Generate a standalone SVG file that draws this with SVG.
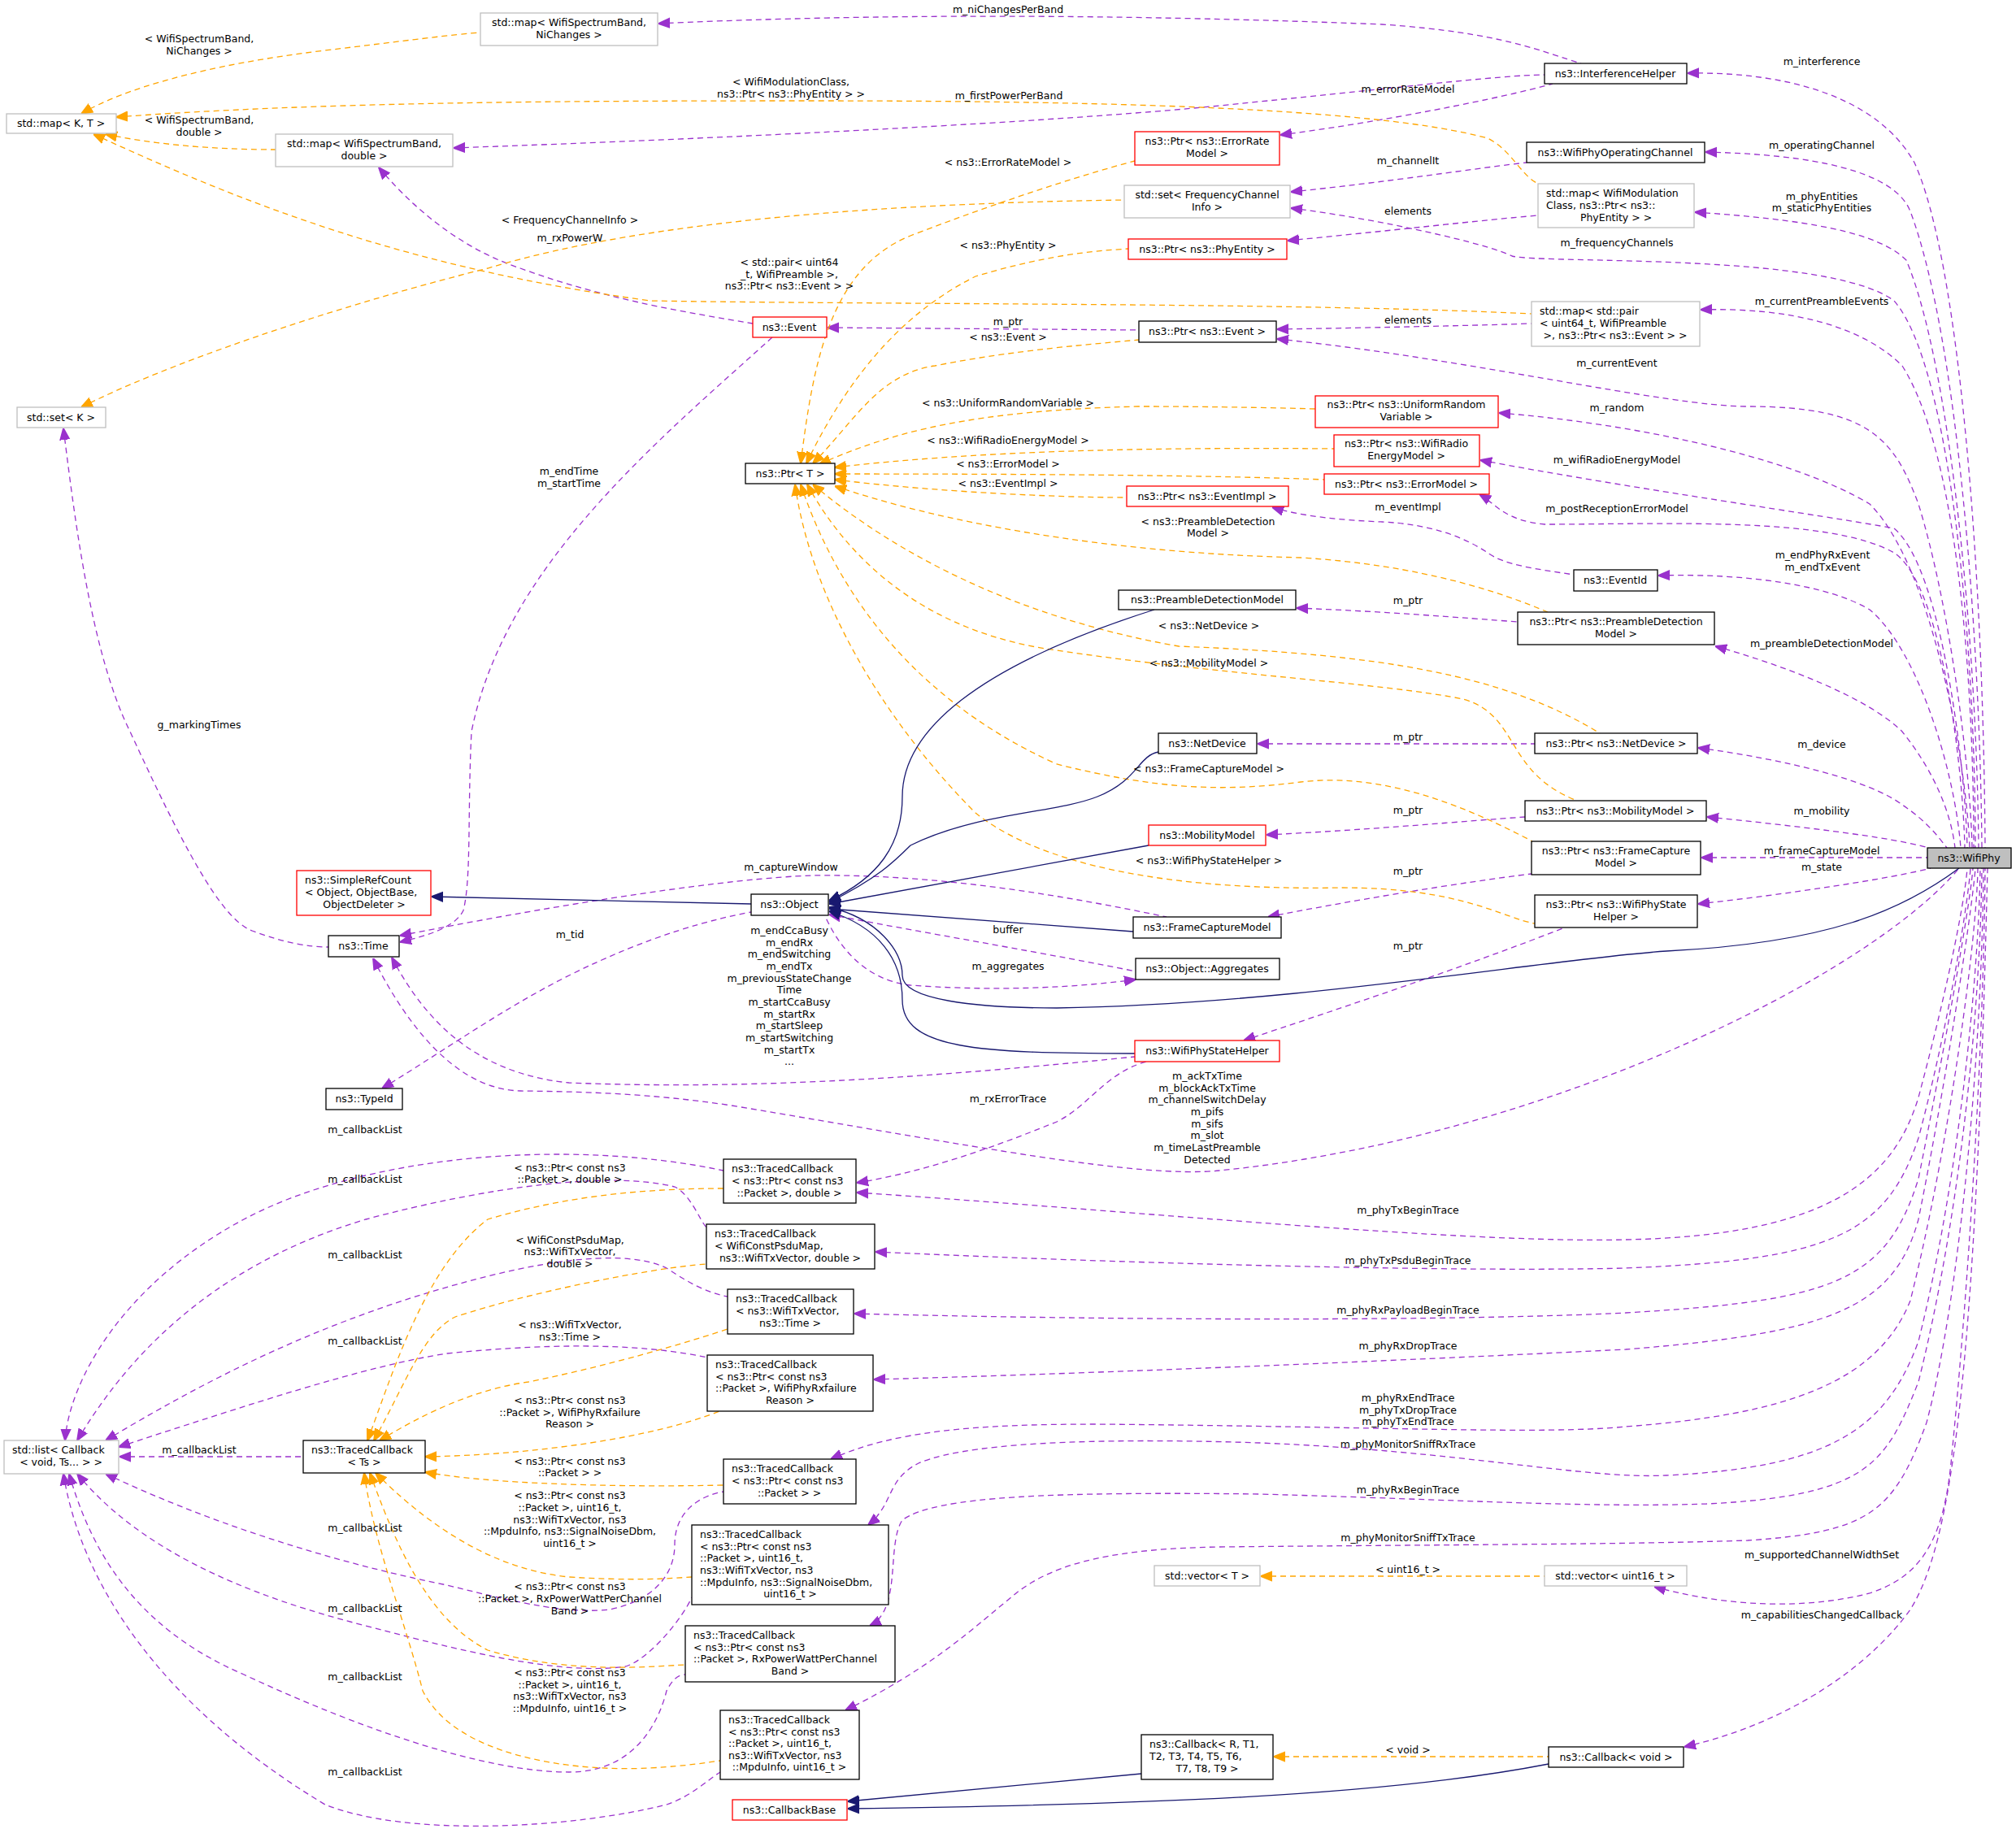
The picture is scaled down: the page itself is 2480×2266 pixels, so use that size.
<svg xmlns="http://www.w3.org/2000/svg" width="2480" height="2266" viewBox="0 0 2480 2266">
<style>
text{font-family:"DejaVu Sans","Liberation Sans",sans-serif;font-size:12.5px;fill:#000}
.l{text-anchor:middle}
.n rect{fill:#fff;stroke:#000;stroke-width:1.3}
.n.r rect{stroke:#ff0000}
.n.g rect{stroke:#bfbfbf}
.n.s rect{fill:#bfbfbf}
.n text{text-anchor:middle}
.n text.a{text-anchor:start}
path{fill:none;stroke-width:1.3}
.p{stroke:#9a32cd;stroke-dasharray:7,5;marker-start:url(#mp)}
.o{stroke:#ffa500;stroke-dasharray:7,5;marker-start:url(#mo)}
.v{stroke:#191970;marker-start:url(#mn)}
</style>
<defs>
<marker id="mp" viewBox="0 0 10 10" refX="10" refY="5" markerWidth="14" markerHeight="14" markerUnits="userSpaceOnUse" orient="auto-start-reverse"><path d="M0,1 L10,5 L0,9 z" style="fill:#9a32cd;stroke:#9a32cd"/></marker>
<marker id="mo" viewBox="0 0 10 10" refX="10" refY="5" markerWidth="14" markerHeight="14" markerUnits="userSpaceOnUse" orient="auto-start-reverse"><path d="M0,1 L10,5 L0,9 z" style="fill:#ffa500;stroke:#ffa500"/></marker>
<marker id="mn" viewBox="0 0 10 10" refX="10" refY="5" markerWidth="14" markerHeight="14" markerUnits="userSpaceOnUse" orient="auto-start-reverse"><path d="M0,1 L10,5 L0,9 z" style="fill:#191970;stroke:#191970"/></marker>
</defs>
<rect width="2480" height="2266" fill="#fff"/>
<g id="edges">
<path class="p" d="M2076,90 C2200,88 2310,120 2355,200 C2410,320 2440,700 2442,1043"/>
<path class="p" d="M2098,187 C2230,190 2330,210 2350,260 C2410,420 2436,800 2438,1043"/>
<path class="p" d="M2085,261 C2220,270 2310,285 2345,320 C2400,450 2432,800 2434,1043"/>
<path class="p" d="M1588,256 C1700,270 1830,300 1860,315 C1900,325 2250,310 2330,370 C2400,450 2430,800 2430,1043"/>
<path class="p" d="M2092,381 C2200,378 2290,400 2340,450 C2410,560 2428,850 2428,1043"/>
<path class="p" d="M1571,417 C1800,440 2050,500 2150,500 C2300,500 2330,540 2360,620 C2400,750 2424,950 2426,1043"/>
<path class="p" d="M1844,508 C2000,520 2200,560 2300,620 C2380,700 2420,950 2423,1043"/>
<path class="p" d="M1821,566 C2000,600 2250,635 2330,650 C2390,700 2418,950 2420,1043"/>
<path class="p" d="M1820,608 C1840,620 1850,640 1900,645 C2050,645 2250,635 2330,680 C2390,720 2415,950 2417,1043"/>
<path class="p" d="M2040,708 C2150,705 2250,720 2300,750 C2360,800 2405,950 2412,1043"/>
<path class="p" d="M2110,795 C2200,820 2300,860 2340,900 C2380,950 2400,1000 2405,1043"/>
<path class="p" d="M2089,920 C2200,935 2300,960 2340,990 C2370,1010 2385,1030 2395,1043"/>
<path class="p" d="M2100,1005 C2200,1015 2330,1030 2372,1043"/>
<path class="p" d="M2093,1055 L2371,1055"/>
<path class="p" d="M2089,1112 C2200,1100 2330,1080 2375,1068"/>
<path class="p" d="M459,1179 C500,1260 560,1340 640,1342 C720,1343 800,1345 900,1360 C1200,1410 1400,1450 1500,1440 C1900,1400 2300,1200 2410,1068"/>
<path class="p" d="M1054,1467 C1400,1490 1800,1530 2000,1525 C2250,1520 2330,1450 2360,1350 C2400,1200 2418,1100 2420,1068"/>
<path class="p" d="M1077,1540 C1400,1555 1800,1565 2000,1560 C2250,1550 2320,1520 2360,1400 C2400,1250 2422,1100 2424,1068"/>
<path class="p" d="M1051,1616 C1400,1625 1800,1625 2000,1615 C2250,1600 2320,1580 2360,1450 C2400,1250 2425,1100 2427,1068"/>
<path class="p" d="M1075,1697 C1400,1688 1800,1670 2000,1660 C2250,1640 2330,1610 2360,1500 C2400,1300 2428,1100 2430,1068"/>
<path class="p" d="M1022,1795 C1100,1760 1200,1752 1350,1752 C1700,1755 1900,1765 2000,1755 C2200,1740 2310,1700 2350,1600 C2400,1400 2432,1150 2433,1068"/>
<path class="p" d="M1068,1876 C1100,1850 1090,1820 1130,1800 C1200,1770 1400,1770 1550,1775 C1800,1785 1950,1820 2050,1815 C2250,1805 2320,1760 2360,1650 C2410,1450 2434,1200 2436,1068"/>
<path class="p" d="M1070,2000 C1110,1980 1090,1900 1110,1870 C1150,1840 1300,1835 1550,1838 C1800,1845 1950,1855 2100,1850 C2300,1840 2320,1800 2360,1700 C2410,1500 2436,1250 2438,1068"/>
<path class="p" d="M1040,2104 C1150,2050 1200,2000 1250,1960 C1300,1920 1380,1905 1500,1903 C1800,1900 2000,1900 2150,1895 C2300,1885 2330,1860 2370,1750 C2410,1600 2438,1300 2440,1068"/>
<path class="p" d="M2035,1952 C2100,1970 2200,1985 2300,1960 C2360,1940 2390,1900 2400,1800 C2420,1600 2440,1300 2442,1068"/>
<path class="p" d="M2072,2149 C2200,2120 2300,2050 2350,1980 C2400,1900 2430,1700 2445,1068"/>
<path class="p" d="M810,29 C1000,20 1300,14 1700,30 C1850,40 1900,65 1945,78"/>
<path class="p" d="M558,182 C900,170 1300,150 1500,130 C1700,110 1850,92 1900,92"/>
<path class="p" d="M1575,166 C1700,150 1850,120 1910,103"/>
<path class="p" d="M1588,236 C1700,225 1830,205 1878,200"/>
<path class="p" d="M1584,296 C1700,285 1830,270 1892,265"/>
<path class="p" d="M1571,405 C1700,403 1830,400 1884,398"/>
<path class="p" d="M1018,403 L1401,406"/>
<path class="p" d="M466,206 C520,270 580,310 640,330 C750,370 850,385 926,398"/>
<path class="p" d="M492,1159 C530,1150 560,1140 570,1120 C580,1080 575,1000 580,900 C620,700 800,550 950,415"/>
<path class="p" d="M78,527 C90,620 110,800 160,900 C220,1030 270,1130 310,1145 C350,1160 380,1165 404,1165"/>
<path class="p" d="M1565,624 C1600,635 1650,640 1700,642 C1760,645 1800,660 1830,680 C1850,695 1890,700 1936,707"/>
<path class="p" d="M1595,748 C1700,752 1800,760 1867,765"/>
<path class="p" d="M1547,915 L1888,915"/>
<path class="p" d="M1558,1027 C1700,1020 1800,1010 1876,1005"/>
<path class="p" d="M1560,1128 C1650,1110 1800,1085 1884,1075"/>
<path class="p" d="M1530,1280 C1650,1240 1800,1190 1925,1141"/>
<path class="p" d="M492,1151 C700,1110 900,1080 1000,1077 C1150,1075 1300,1100 1435,1128"/>
<path class="p" d="M1020,1125 C1150,1150 1300,1175 1397,1195"/>
<path class="p" d="M1397,1205 C1300,1218 1200,1218 1120,1212 C1060,1205 1030,1160 1015,1127"/>
<path class="p" d="M470,1339 C550,1290 620,1240 700,1200 C800,1150 880,1130 924,1122"/>
<path class="p" d="M482,1178 C520,1250 580,1320 700,1332 C900,1340 1100,1330 1396,1300"/>
<path class="p" d="M1054,1455 C1150,1440 1250,1400 1300,1380 C1340,1360 1360,1320 1410,1306"/>
<path class="p" d="M80,1772 C85,1700 150,1580 300,1500 C450,1420 700,1400 890,1440"/>
<path class="p" d="M95,1772 C150,1680 250,1560 450,1500 C600,1460 750,1440 830,1460 C850,1470 860,1500 869,1510"/>
<path class="p" d="M130,1772 C250,1700 400,1620 600,1570 C700,1545 780,1540 820,1560 C850,1580 870,1590 895,1595"/>
<path class="p" d="M146,1780 C300,1730 450,1680 550,1665 C700,1650 800,1655 870,1670"/>
<path class="p" d="M147,1792 L373,1792"/>
<path class="p" d="M130,1813 C250,1870 400,1920 550,1950 C650,1975 700,1985 750,1980 C800,1970 830,1940 830,1900 C830,1860 860,1840 890,1835"/>
<path class="p" d="M95,1813 C150,1880 250,1950 450,2000 C600,2040 700,2060 770,2050 C800,2040 840,1990 851,1965"/>
<path class="p" d="M85,1813 C110,1900 160,2000 300,2060 C450,2130 600,2180 700,2180 C780,2180 810,2120 820,2080 C830,2060 840,2060 843,2060"/>
<path class="p" d="M78,1813 C100,1950 200,2100 400,2220 C500,2260 700,2250 820,2220 C850,2210 870,2190 886,2180"/>
<path class="o" d="M100,140 C150,110 250,80 400,62 C500,50 560,42 591,40"/>
<path class="o" d="M130,165 C200,180 280,184 339,184"/>
<path class="o" d="M143,144 C400,125 700,124 1000,124 C1400,124 1700,135 1830,170 C1860,185 1870,215 1892,226"/>
<path class="o" d="M115,165 C300,250 500,330 800,370 C1100,375 1600,372 1884,386"/>
<path class="o" d="M100,501 C200,450 400,380 600,330 C800,270 1100,250 1383,246"/>
<path class="o" d="M985,570 C1000,450 1020,330 1120,290 C1250,240 1350,210 1396,198"/>
<path class="o" d="M992,570 C1050,450 1120,380 1200,340 C1300,310 1360,308 1388,306"/>
<path class="o" d="M1000,570 C1050,520 1080,460 1150,450 C1250,430 1350,423 1401,418"/>
<path class="o" d="M1008,571 C1100,530 1200,505 1400,500 C1500,500 1580,502 1618,503"/>
<path class="o" d="M1027,575 C1200,555 1400,550 1641,552"/>
<path class="o" d="M1027,583 C1300,583 1500,585 1629,590"/>
<path class="o" d="M1027,590 C1150,605 1300,612 1386,612"/>
<path class="o" d="M1027,598 C1150,640 1350,680 1600,686 C1750,695 1850,730 1904,753"/>
<path class="o" d="M1000,596 C1100,680 1250,760 1450,795 C1700,805 1850,830 1968,902"/>
<path class="o" d="M993,596 C1050,700 1150,780 1300,800 C1500,830 1700,840 1800,860 C1870,880 1850,950 1940,985"/>
<path class="o" d="M985,596 C1020,700 1100,850 1300,940 C1420,970 1500,975 1600,962 C1700,950 1800,990 1885,1035"/>
<path class="o" d="M978,596 C1000,750 1100,900 1200,1000 C1300,1080 1500,1095 1650,1092 C1800,1092 1850,1130 1888,1136"/>
<path class="o" d="M452,1772 C480,1700 520,1560 600,1500 C700,1470 800,1462 890,1462"/>
<path class="o" d="M460,1772 C500,1700 520,1640 560,1620 C650,1590 800,1560 869,1555"/>
<path class="o" d="M467,1772 C520,1740 580,1710 650,1700 C750,1680 850,1650 895,1635"/>
<path class="o" d="M523,1792 C650,1790 800,1770 885,1736"/>
<path class="o" d="M523,1811 C600,1825 750,1830 890,1827"/>
<path class="o" d="M462,1812 C520,1870 600,1930 700,1940 C780,1945 820,1942 851,1940"/>
<path class="o" d="M455,1812 C480,1880 520,1990 600,2030 C700,2060 800,2050 843,2048"/>
<path class="o" d="M448,1812 C460,1900 500,2000 520,2080 C560,2160 700,2180 800,2175 C850,2172 870,2168 886,2166"/>
<path class="o" d="M1551,1939 L1900,1939"/>
<path class="o" d="M1567,2161 L1905,2161"/>
<path class="v" d="M531,1103 L924,1112"/>
<path class="v" d="M1020,1108 C1080,1080 1110,1040 1110,980 C1110,900 1200,820 1420,750"/>
<path class="v" d="M1020,1110 C1080,1080 1100,1060 1120,1040 C1200,1000 1300,1000 1350,980 C1400,960 1400,930 1425,925"/>
<path class="v" d="M1020,1112 L1413,1040"/>
<path class="v" d="M1020,1118 L1394,1146"/>
<path class="v" d="M1020,1121 C1080,1140 1110,1180 1110,1230 C1110,1290 1200,1296 1396,1296"/>
<path class="v" d="M1020,1116 C1080,1130 1110,1170 1110,1200 C1110,1230 1200,1240 1300,1240 C1600,1235 1900,1180 2050,1170 C2250,1160 2340,1120 2410,1068"/>
<path class="v" d="M1043,2216 L1404,2182"/>
<path class="v" d="M1043,2225 C1400,2220 1700,2210 1905,2170"/>
</g>
<g id="labels">
<text class="l" x="245" y="52">&lt; WifiSpectrumBand,</text><text class="l" x="245" y="67">NiChanges &gt;</text>
<text class="l" x="245" y="152">&lt; WifiSpectrumBand,</text><text class="l" x="245" y="167">double &gt;</text>
<text class="l" x="701" y="275">&lt; FrequencyChannelInfo &gt;</text>
<text class="l" x="701" y="297">m_rxPowerW</text>
<text class="l" x="700" y="584">m_endTime</text><text class="l" x="700" y="599">m_startTime</text>
<text class="l" x="1240" y="16">m_niChangesPerBand</text>
<text class="l" x="973" y="105">&lt; WifiModulationClass,</text><text class="l" x="973" y="120">ns3::Ptr&lt; ns3::PhyEntity &gt; &gt;</text>
<text class="l" x="1241" y="122">m_firstPowerPerBand</text>
<text class="l" x="1240" y="204">&lt; ns3::ErrorRateModel &gt;</text>
<text class="l" x="1240" y="306">&lt; ns3::PhyEntity &gt;</text>
<text class="l" x="971" y="327">&lt; std::pair&lt; uint64</text><text class="l" x="971" y="342">_t, WifiPreamble &gt;,</text><text class="l" x="971" y="356">ns3::Ptr&lt; ns3::Event &gt; &gt;</text>
<text class="l" x="1240" y="400">m_ptr</text><text class="l" x="1240" y="419">&lt; ns3::Event &gt;</text>
<text class="l" x="1240" y="500">&lt; ns3::UniformRandomVariable &gt;</text>
<text class="l" x="1240" y="546">&lt; ns3::WifiRadioEnergyModel &gt;</text>
<text class="l" x="1240" y="575">&lt; ns3::ErrorModel &gt;</text>
<text class="l" x="1240" y="599">&lt; ns3::EventImpl &gt;</text>
<text class="l" x="1486" y="646">&lt; ns3::PreambleDetection</text><text class="l" x="1486" y="660">Model &gt;</text>
<text class="l" x="2241" y="80">m_interference</text>
<text class="l" x="1732" y="114">m_errorRateModel</text>
<text class="l" x="2241" y="183">m_operatingChannel</text>
<text class="l" x="1732" y="202">m_channelIt</text>
<text class="l" x="2241" y="246">m_phyEntities</text><text class="l" x="2241" y="260">m_staticPhyEntities</text>
<text class="l" x="1732" y="264">elements</text>
<text class="l" x="1989" y="303">m_frequencyChannels</text>
<text class="l" x="2241" y="375">m_currentPreambleEvents</text>
<text class="l" x="1732" y="398">elements</text>
<text class="l" x="1989" y="451">m_currentEvent</text>
<text class="l" x="1989" y="506">m_random</text>
<text class="l" x="1989" y="570">m_wifiRadioEnergyModel</text>
<text class="l" x="1989" y="630">m_postReceptionErrorModel</text>
<text class="l" x="1732" y="628">m_eventImpl</text>
<text class="l" x="2242" y="687">m_endPhyRxEvent</text><text class="l" x="2242" y="702">m_endTxEvent</text>
<text class="l" x="1732" y="743">m_ptr</text>
<text class="l" x="245" y="896">g_markingTimes</text>
<text class="l" x="701" y="1154">m_tid</text>
<text class="l" x="1487" y="774">&lt; ns3::NetDevice &gt;</text>
<text class="l" x="1487" y="820">&lt; ns3::MobilityModel &gt;</text>
<text class="l" x="1487" y="950">&lt; ns3::FrameCaptureModel &gt;</text>
<text class="l" x="1487" y="1063">&lt; ns3::WifiPhyStateHelper &gt;</text>
<text class="l" x="973" y="1071">m_captureWindow</text>
<text class="l" x="1240" y="1148">buffer</text>
<text class="l" x="1240" y="1193">m_aggregates</text>
<text class="l" x="971" y="1149">m_endCcaBusy</text><text class="l" x="971" y="1164">m_endRx</text><text class="l" x="971" y="1178">m_endSwitching</text><text class="l" x="971" y="1193">m_endTx</text><text class="l" x="971" y="1208">m_previousStateChange</text><text class="l" x="971" y="1222">Time</text><text class="l" x="971" y="1237">m_startCcaBusy</text><text class="l" x="971" y="1252">m_startRx</text><text class="l" x="971" y="1266">m_startSleep</text><text class="l" x="971" y="1281">m_startSwitching</text><text class="l" x="971" y="1296">m_startTx</text><text class="l" x="971" y="1310">...</text>
<text class="l" x="1240" y="1356">m_rxErrorTrace</text>
<text class="l" x="1485" y="1328">m_ackTxTime</text><text class="l" x="1485" y="1343">m_blockAckTxTime</text><text class="l" x="1485" y="1357">m_channelSwitchDelay</text><text class="l" x="1485" y="1372">m_pifs</text><text class="l" x="1485" y="1387">m_sifs</text><text class="l" x="1485" y="1401">m_slot</text><text class="l" x="1485" y="1416">m_timeLastPreamble</text><text class="l" x="1485" y="1431">Detected</text>
<text class="l" x="2241" y="796">m_preambleDetectionModel</text>
<text class="l" x="1732" y="911">m_ptr</text><text class="l" x="1732" y="1001">m_ptr</text><text class="l" x="1732" y="1076">m_ptr</text><text class="l" x="1732" y="1168">m_ptr</text>
<text class="l" x="2241" y="920">m_device</text>
<text class="l" x="2241" y="1002">m_mobility</text>
<text class="l" x="2241" y="1051">m_frameCaptureModel</text>
<text class="l" x="2241" y="1071">m_state</text>
<text class="l" x="1732" y="1493">m_phyTxBeginTrace</text>
<text class="l" x="1732" y="1555">m_phyTxPsduBeginTrace</text>
<text class="l" x="1732" y="1616">m_phyRxPayloadBeginTrace</text>
<text class="l" x="1732" y="1660">m_phyRxDropTrace</text>
<text class="l" x="1732" y="1724">m_phyRxEndTrace</text><text class="l" x="1732" y="1739">m_phyTxDropTrace</text><text class="l" x="1732" y="1753">m_phyTxEndTrace</text>
<text class="l" x="1732" y="1781">m_phyMonitorSniffRxTrace</text>
<text class="l" x="1732" y="1837">m_phyRxBeginTrace</text>
<text class="l" x="1732" y="1896">m_phyMonitorSniffTxTrace</text>
<text class="l" x="1732" y="1935">&lt; uint16_t &gt;</text>
<text class="l" x="2241" y="1917">m_supportedChannelWidthSet</text>
<text class="l" x="2241" y="1991">m_capabilitiesChangedCallback</text>
<text class="l" x="1732" y="2157">&lt; void &gt;</text>
<text class="l" x="449" y="1394">m_callbackList</text><text class="l" x="449" y="1455">m_callbackList</text><text class="l" x="449" y="1548">m_callbackList</text><text class="l" x="449" y="1654">m_callbackList</text><text class="l" x="449" y="1884">m_callbackList</text><text class="l" x="449" y="1983">m_callbackList</text><text class="l" x="449" y="2067">m_callbackList</text><text class="l" x="449" y="2184">m_callbackList</text>
<text class="l" x="245" y="1788">m_callbackList</text>
<text class="l" x="701" y="1441">&lt; ns3::Ptr&lt; const ns3</text><text class="l" x="701" y="1455">::Packet &gt;, double &gt;</text>
<text class="l" x="701" y="1530">&lt; WifiConstPsduMap,</text><text class="l" x="701" y="1544">ns3::WifiTxVector,</text><text class="l" x="701" y="1559">double &gt;</text>
<text class="l" x="701" y="1634">&lt; ns3::WifiTxVector,</text><text class="l" x="701" y="1649">ns3::Time &gt;</text>
<text class="l" x="701" y="1727">&lt; ns3::Ptr&lt; const ns3</text><text class="l" x="701" y="1742">::Packet &gt;, WifiPhyRxfailure</text><text class="l" x="701" y="1756">Reason &gt;</text>
<text class="l" x="701" y="1802">&lt; ns3::Ptr&lt; const ns3</text><text class="l" x="701" y="1816">::Packet &gt; &gt;</text>
<text class="l" x="701" y="1844">&lt; ns3::Ptr&lt; const ns3</text><text class="l" x="701" y="1859">::Packet &gt;, uint16_t,</text><text class="l" x="701" y="1874">ns3::WifiTxVector, ns3</text><text class="l" x="701" y="1888">::MpduInfo, ns3::SignalNoiseDbm,</text><text class="l" x="701" y="1903">uint16_t &gt;</text>
<text class="l" x="701" y="1956">&lt; ns3::Ptr&lt; const ns3</text><text class="l" x="701" y="1971">::Packet &gt;, RxPowerWattPerChannel</text><text class="l" x="701" y="1986">Band &gt;</text>
<text class="l" x="701" y="2062">&lt; ns3::Ptr&lt; const ns3</text><text class="l" x="701" y="2077">::Packet &gt;, uint16_t,</text><text class="l" x="701" y="2091">ns3::WifiTxVector, ns3</text><text class="l" x="701" y="2106">::MpduInfo, uint16_t &gt;</text>
</g>
<g id="n_wifiphy" class="n s"><rect x="2371" y="1043" width="103" height="25"/><text x="2422" y="1060">ns3::WifiPhy</text></g>
<g id="n_mapNi" class="n g"><rect x="591" y="16" width="218" height="40"/><text x="700" y="32">std::map&lt; WifiSpectrumBand,</text><text x="700" y="47">NiChanges &gt;</text></g>
<g id="n_mapKT" class="n g"><rect x="8" y="140" width="135" height="24"/><text x="75" y="156">std::map&lt; K, T &gt;</text></g>
<g id="n_mapDbl" class="n g"><rect x="339" y="165" width="218" height="40"/><text x="448" y="181">std::map&lt; WifiSpectrumBand,</text><text x="448" y="196">double &gt;</text></g>
<g id="n_setK" class="n g"><rect x="21" y="501" width="109" height="25"/><text x="75" y="518">std::set&lt; K &gt;</text></g>
<g id="n_ptrErrRate" class="n r"><rect x="1396" y="162" width="178" height="41"/><text x="1485" y="178">ns3::Ptr&lt; ns3::ErrorRate</text><text x="1485" y="193">Model &gt;</text></g>
<g id="n_setFreq" class="n g"><rect x="1383" y="228" width="204" height="40"/><text x="1485" y="244">std::set&lt; FrequencyChannel</text><text x="1485" y="259">Info &gt;</text></g>
<g id="n_ptrPhyEnt" class="n r"><rect x="1388" y="294" width="195" height="25"/><text x="1485" y="311">ns3::Ptr&lt; ns3::PhyEntity &gt;</text></g>
<g id="n_event" class="n r"><rect x="926" y="390" width="91" height="25"/><text x="971" y="407">ns3::Event</text></g>
<g id="n_ptrEvent" class="n"><rect x="1401" y="395" width="169" height="26"/><text x="1485" y="412">ns3::Ptr&lt; ns3::Event &gt;</text></g>
<g id="n_ptrT" class="n"><rect x="917" y="570" width="110" height="25"/><text x="972" y="587">ns3::Ptr&lt; T &gt;</text></g>
<g id="n_ptrEvImpl" class="n r"><rect x="1386" y="598" width="199" height="25"/><text x="1485" y="615">ns3::Ptr&lt; ns3::EventImpl &gt;</text></g>
<g id="n_preDet" class="n"><rect x="1376" y="726" width="218" height="24"/><text x="1485" y="742">ns3::PreambleDetectionModel</text></g>
<g id="n_intHelper" class="n"><rect x="1900" y="78" width="175" height="25"/><text x="1987" y="95">ns3::InterferenceHelper</text></g>
<g id="n_opChan" class="n"><rect x="1878" y="175" width="219" height="25"/><text x="1987" y="192">ns3::WifiPhyOperatingChannel</text></g>
<g id="n_mapMod" class="n g"><rect x="1892" y="226" width="192" height="54"/><text class="a" x="1902" y="242">std::map&lt; WifiModulation</text><text class="a" x="1902" y="257">Class, ns3::Ptr&lt; ns3::</text><text x="1988" y="272">PhyEntity &gt; &gt;</text></g>
<g id="n_mapPair" class="n g"><rect x="1884" y="371" width="207" height="55"/><text class="a" x="1894" y="387">std::map&lt; std::pair</text><text class="a" x="1894" y="402">&lt; uint64_t, WifiPreamble</text><text x="1987" y="417">&gt;, ns3::Ptr&lt; ns3::Event &gt; &gt;</text></g>
<g id="n_ptrURV" class="n r"><rect x="1618" y="487" width="225" height="39"/><text x="1730" y="502">ns3::Ptr&lt; ns3::UniformRandom</text><text x="1730" y="517">Variable &gt;</text></g>
<g id="n_ptrWREM" class="n r"><rect x="1641" y="535" width="179" height="39"/><text x="1730" y="550">ns3::Ptr&lt; ns3::WifiRadio</text><text x="1730" y="565">EnergyModel &gt;</text></g>
<g id="n_ptrErrModel" class="n r"><rect x="1629" y="583" width="203" height="25"/><text x="1730" y="600">ns3::Ptr&lt; ns3::ErrorModel &gt;</text></g>
<g id="n_eventId" class="n"><rect x="1936" y="701" width="103" height="26"/><text x="1987" y="718">ns3::EventId</text></g>
<g id="n_simpleRef" class="n r"><rect x="365" y="1071" width="165" height="55"/><text class="a" x="375" y="1087">ns3::SimpleRefCount</text><text class="a" x="375" y="1102">&lt; Object, ObjectBase,</text><text x="448" y="1117">ObjectDeleter &gt;</text></g>
<g id="n_time" class="n"><rect x="404" y="1151" width="87" height="26"/><text x="447" y="1168">ns3::Time</text></g>
<g id="n_typeId" class="n"><rect x="401" y="1339" width="94" height="26"/><text x="448" y="1356">ns3::TypeId</text></g>
<g id="n_netDev" class="n"><rect x="1425" y="902" width="121" height="25"/><text x="1485" y="919">ns3::NetDevice</text></g>
<g id="n_mobility" class="n r"><rect x="1413" y="1015" width="144" height="25"/><text x="1485" y="1032">ns3::MobilityModel</text></g>
<g id="n_object" class="n"><rect x="924" y="1100" width="95" height="26"/><text x="971" y="1117">ns3::Object</text></g>
<g id="n_fcm" class="n"><rect x="1394" y="1128" width="182" height="26"/><text x="1485" y="1145">ns3::FrameCaptureModel</text></g>
<g id="n_aggr" class="n"><rect x="1397" y="1179" width="177" height="26"/><text x="1485" y="1196">ns3::Object::Aggregates</text></g>
<g id="n_wpsh" class="n r"><rect x="1396" y="1280" width="178" height="26"/><text x="1485" y="1297">ns3::WifiPhyStateHelper</text></g>
<g id="n_ptrPD" class="n"><rect x="1867" y="753" width="242" height="40"/><text x="1988" y="769">ns3::Ptr&lt; ns3::PreambleDetection</text><text x="1988" y="784">Model &gt;</text></g>
<g id="n_ptrND" class="n"><rect x="1888" y="902" width="200" height="25"/><text x="1988" y="919">ns3::Ptr&lt; ns3::NetDevice &gt;</text></g>
<g id="n_ptrMM" class="n"><rect x="1876" y="985" width="223" height="25"/><text x="1987" y="1002">ns3::Ptr&lt; ns3::MobilityModel &gt;</text></g>
<g id="n_ptrFC" class="n"><rect x="1884" y="1035" width="208" height="41"/><text x="1988" y="1051">ns3::Ptr&lt; ns3::FrameCapture</text><text x="1988" y="1066">Model &gt;</text></g>
<g id="n_ptrWPSH" class="n"><rect x="1888" y="1101" width="200" height="40"/><text x="1988" y="1117">ns3::Ptr&lt; ns3::WifiPhyState</text><text x="1988" y="1132">Helper &gt;</text></g>
<g id="n_tcPD" class="n"><rect x="890" y="1426" width="163" height="54"/><text class="a" x="900" y="1442">ns3::TracedCallback</text><text class="a" x="900" y="1457">&lt; ns3::Ptr&lt; const ns3</text><text x="971" y="1472">::Packet &gt;, double &gt;</text></g>
<g id="n_list" class="n g"><rect x="5" y="1772" width="141" height="41"/><text class="a" x="15" y="1788">std::list&lt; Callback</text><text x="75" y="1803">&lt; void, Ts... &gt; &gt;</text></g>
<g id="n_tcTs" class="n"><rect x="373" y="1772" width="150" height="40"/><text class="a" x="383" y="1788">ns3::TracedCallback</text><text x="448" y="1803">&lt; Ts &gt;</text></g>
<g id="n_tcPsdu" class="n"><rect x="869" y="1506" width="207" height="55"/><text class="a" x="879" y="1522">ns3::TracedCallback</text><text class="a" x="879" y="1537">&lt; WifiConstPsduMap,</text><text x="972" y="1552">ns3::WifiTxVector, double &gt;</text></g>
<g id="n_tcTxV" class="n"><rect x="895" y="1586" width="155" height="55"/><text class="a" x="905" y="1602">ns3::TracedCallback</text><text class="a" x="905" y="1617">&lt; ns3::WifiTxVector,</text><text x="972" y="1632">ns3::Time &gt;</text></g>
<g id="n_tcRxf" class="n"><rect x="870" y="1667" width="204" height="69"/><text class="a" x="880" y="1683">ns3::TracedCallback</text><text class="a" x="880" y="1698">&lt; ns3::Ptr&lt; const ns3</text><text class="a" x="880" y="1712">::Packet &gt;, WifiPhyRxfailure</text><text x="972" y="1727">Reason &gt;</text></g>
<g id="n_tcPkt" class="n"><rect x="890" y="1795" width="163" height="55"/><text class="a" x="900" y="1811">ns3::TracedCallback</text><text class="a" x="900" y="1826">&lt; ns3::Ptr&lt; const ns3</text><text x="971" y="1841">::Packet &gt; &gt;</text></g>
<g id="n_tcSnr" class="n"><rect x="851" y="1876" width="242" height="98"/><text class="a" x="861" y="1892">ns3::TracedCallback</text><text class="a" x="861" y="1907">&lt; ns3::Ptr&lt; const ns3</text><text class="a" x="861" y="1921">::Packet &gt;, uint16_t,</text><text class="a" x="861" y="1936"> ns3::WifiTxVector, ns3</text><text class="a" x="861" y="1951">::MpduInfo, ns3::SignalNoiseDbm,</text><text x="972" y="1965">uint16_t &gt;</text></g>
<g id="n_tcRxPow" class="n"><rect x="843" y="2000" width="258" height="69"/><text class="a" x="853" y="2016">ns3::TracedCallback</text><text class="a" x="853" y="2031">&lt; ns3::Ptr&lt; const ns3</text><text class="a" x="853" y="2045">::Packet &gt;, RxPowerWattPerChannel</text><text x="972" y="2060">Band &gt;</text></g>
<g id="n_tcMpdu" class="n"><rect x="886" y="2104" width="171" height="85"/><text class="a" x="896" y="2120">ns3::TracedCallback</text><text class="a" x="896" y="2135">&lt; ns3::Ptr&lt; const ns3</text><text class="a" x="896" y="2149">::Packet &gt;, uint16_t,</text><text class="a" x="896" y="2164"> ns3::WifiTxVector, ns3</text><text x="971" y="2178">::MpduInfo, uint16_t &gt;</text></g>
<g id="n_cbBase" class="n r"><rect x="901" y="2214" width="141" height="25"/><text x="971" y="2231">ns3::CallbackBase</text></g>
<g id="n_cbR" class="n"><rect x="1404" y="2134" width="162" height="55"/><text class="a" x="1414" y="2150">ns3::Callback&lt; R, T1,</text><text class="a" x="1414" y="2165">T2, T3, T4, T5, T6,</text><text x="1485" y="2180">T7, T8, T9 &gt;</text></g>
<g id="n_vecT" class="n g"><rect x="1420" y="1926" width="130" height="25"/><text x="1485" y="1943">std::vector&lt; T &gt;</text></g>
<g id="n_vecU" class="n g"><rect x="1900" y="1926" width="175" height="25"/><text x="1987" y="1943">std::vector&lt; uint16_t &gt;</text></g>
<g id="n_cbVoid" class="n"><rect x="1905" y="2149" width="166" height="25"/><text x="1988" y="2166">ns3::Callback&lt; void &gt;</text></g>
</svg>
